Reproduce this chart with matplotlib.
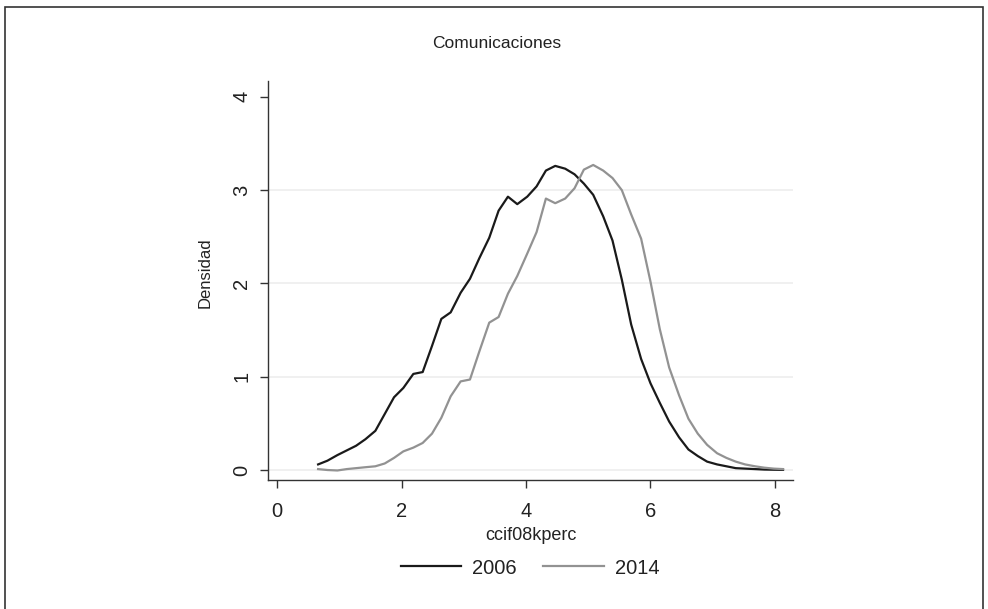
import matplotlib
matplotlib.use("Agg")
import matplotlib.pyplot as plt
from matplotlib.patches import Rectangle

plt.rcParams['font.family'] = ['Liberation Sans', 'DejaVu Sans']

# Kernel density estimates (50 evaluation points) of ccif08kperc
x_grid = [0.66, 0.81, 0.97, 1.12, 1.27, 1.42, 1.58, 1.73, 1.88, 2.03,
          2.19, 2.34, 2.49, 2.64, 2.79, 2.95, 3.10, 3.25, 3.41, 3.56,
          3.71, 3.86, 4.02, 4.17, 4.32, 4.47, 4.63, 4.78, 4.93, 5.08,
          5.24, 5.39, 5.54, 5.69, 5.85, 6.00, 6.15, 6.30, 6.46, 6.61,
          6.76, 6.91, 7.07, 7.22, 7.37, 7.52, 7.68, 7.83, 7.98, 8.13]

dens_2006 = [0.06, 0.10, 0.16, 0.21, 0.26, 0.33, 0.42, 0.60, 0.78, 0.88,
             1.03, 1.05, 1.33, 1.62, 1.69, 1.90, 2.05, 2.27, 2.49, 2.78,
             2.93, 2.85, 2.93, 3.04, 3.21, 3.26, 3.23, 3.17, 3.07, 2.95,
             2.72, 2.46, 2.04, 1.56, 1.19, 0.93, 0.72, 0.52, 0.35, 0.22,
             0.15, 0.09, 0.06, 0.04, 0.02, 0.015, 0.01, 0.005, 0.003, 0.002]

dens_2014 = [0.01, 0.00, -0.005, 0.01, 0.02, 0.03, 0.04, 0.07, 0.13, 0.20,
             0.24, 0.29, 0.39, 0.56, 0.79, 0.95, 0.97, 1.27, 1.58, 1.64,
             1.89, 2.08, 2.32, 2.55, 2.91, 2.86, 2.91, 3.02, 3.22, 3.27,
             3.21, 3.13, 3.00, 2.74, 2.48, 2.02, 1.51, 1.10, 0.80, 0.55,
             0.39, 0.27, 0.18, 0.13, 0.09, 0.06, 0.04, 0.025, 0.015, 0.01]

years = ['2006', '2014']
x_ticks = [0, 2, 4, 6, 8]
y_ticks = [0, 1, 2, 3, 4]

text_color = '#222222'
axis_color = '#333333'

fig = plt.figure(figsize=(9.88, 6.09), dpi=100)
ax = fig.add_axes([268 / 988, 129 / 609, 525 / 988, 399 / 609])

ax.plot(x_grid, dens_2006, color='#1a1a1a', lw=1.6, label=years[0])
ax.plot(x_grid, dens_2014, color='#929292', lw=1.6, label=years[1])

ax.set_xlim(-0.145, 8.29)
ax.set_ylim(-0.107, 4.17)
ax.set_xticks(x_ticks)
ax.set_yticks(y_ticks)

# horizontal grid at every label except the top one
for y in y_ticks[:-1]:
    ax.axhline(y, color='#efefef', lw=1.3, zorder=0)

for side in ['top', 'right']:
    ax.spines[side].set_visible(False)
for side in ['left', 'bottom']:
    ax.spines[side].set_color(axis_color)
    ax.spines[side].set_linewidth(1.0)

ax.tick_params(axis='both', direction='out', length=6, width=1.0,
               color=axis_color, labelcolor=text_color, labelsize=14.5)
ax.tick_params(axis='x', pad=10)
ax.tick_params(axis='y', pad=6, labelrotation=90)
for lbl in ax.get_yticklabels():
    lbl.set_va('center')

ax.set_xlabel('ccif08kperc', fontsize=13, color=text_color)
ax.set_ylabel('Densidad', fontsize=12, color=text_color)
ax.xaxis.set_label_coords(0.5, -0.118)
ax.yaxis.set_label_coords(-0.106, 0.52)

fig.text(0.503, 1 - 44 / 609, 'Comunicaciones', ha='center', va='center',
         fontsize=12.5, color=text_color)

fig.legend(loc='center', bbox_to_anchor=(530 / 988, 1 - 568 / 609), ncol=2,
           frameon=False, fontsize=14.5, handlelength=3.0, handletextpad=0.55,
           columnspacing=1.3, labelcolor=text_color)

# outer frame of the graph region
fig.patches.append(Rectangle((5 / 988, -0.05), 978 / 988, 1.05 - 7 / 609,
                             transform=fig.transFigure, fill=False,
                             edgecolor=axis_color, lw=1.2))

fig.savefig('out.png', dpi=100, facecolor='white')
